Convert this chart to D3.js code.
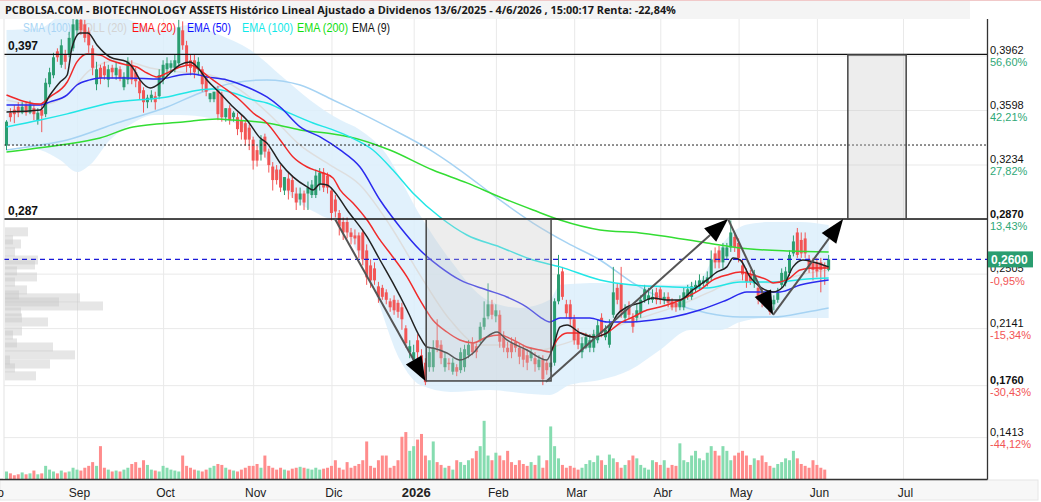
<!DOCTYPE html>
<html><head><meta charset="utf-8">
<script src="https://cdn.jsdelivr.net/npm/d3@7"></script>
<style>body{margin:0;background:#fff;} svg{display:block;font-family:"Liberation Sans",Arial,sans-serif;}</style>
</head><body><svg id="c" width="1041" height="502"></svg>
<script>
// ---------- DATA ----------
// daily candles [open, high, low, close], one per trading day from early Aug 2025 to 4 Jun 2026
const candles = [
[0.336,0.353,0.333,0.352],[0.358,0.361,0.352,0.355],[0.360,0.363,0.351,0.357],[0.362,0.365,0.355,0.358],[0.358,0.365,0.357,0.362],
[0.363,0.365,0.356,0.358],[0.358,0.366,0.357,0.363],[0.361,0.363,0.353,0.357],[0.353,0.361,0.350,0.358],[0.360,0.363,0.345,0.356],
[0.357,0.381,0.355,0.378],[0.377,0.388,0.375,0.385],[0.383,0.398,0.381,0.395],[0.399,0.401,0.392,0.395],[0.390,0.407,0.388,0.403],
[0.397,0.400,0.387,0.392],[0.397,0.412,0.395,0.408],[0.401,0.423,0.399,0.417],[0.413,0.424,0.410,0.420],[0.420,0.423,0.410,0.413],
[0.417,0.420,0.405,0.408],[0.412,0.415,0.398,0.403],[0.401,0.403,0.383,0.388],[0.377,0.392,0.373,0.387],[0.388,0.390,0.377,0.381],
[0.389,0.392,0.380,0.383],[0.380,0.390,0.375,0.387],[0.388,0.390,0.381,0.385],[0.383,0.392,0.380,0.388],[0.387,0.389,0.379,0.381],
[0.375,0.385,0.373,0.382],[0.380,0.395,0.377,0.392],[0.390,0.393,0.377,0.380],[0.385,0.388,0.375,0.379],[0.379,0.381,0.367,0.371],
[0.373,0.375,0.358,0.365],[0.365,0.370,0.361,0.368],[0.367,0.373,0.365,0.370],[0.369,0.372,0.360,0.365],[0.369,0.387,0.367,0.383],
[0.380,0.393,0.377,0.390],[0.387,0.395,0.383,0.391],[0.388,0.393,0.385,0.391],[0.388,0.397,0.385,0.393],[0.391,0.420,0.389,0.415],
[0.413,0.419,0.400,0.403],[0.403,0.406,0.385,0.390],[0.393,0.397,0.383,0.388],[0.393,0.397,0.381,0.385],[0.387,0.395,0.383,0.392],
[0.387,0.389,0.372,0.377],[0.381,0.383,0.369,0.372],[0.367,0.371,0.365,0.371],[0.367,0.372,0.365,0.372],[0.373,0.376,0.353,0.357],
[0.370,0.372,0.352,0.355],[0.355,0.361,0.352,0.361],[0.361,0.363,0.350,0.353],[0.355,0.359,0.352,0.358],[0.355,0.358,0.343,0.347],
[0.353,0.357,0.340,0.345],[0.351,0.353,0.336,0.340],[0.348,0.350,0.333,0.340],[0.340,0.342,0.320,0.326],[0.333,0.336,0.322,0.326],
[0.330,0.343,0.326,0.340],[0.342,0.344,0.328,0.332],[0.332,0.334,0.318,0.323],[0.322,0.325,0.306,0.313],[0.320,0.323,0.310,0.313],
[0.320,0.323,0.305,0.308],[0.306,0.315,0.303,0.315],[0.314,0.318,0.300,0.306],[0.313,0.316,0.301,0.305],[0.304,0.308,0.293,0.298],
[0.300,0.308,0.296,0.304],[0.304,0.306,0.293,0.298],[0.304,0.312,0.293,0.308],[0.303,0.313,0.301,0.310],[0.303,0.320,0.301,0.316],
[0.310,0.321,0.306,0.318],[0.318,0.321,0.305,0.308],[0.316,0.318,0.304,0.308],[0.306,0.308,0.286,0.291],[0.300,0.303,0.288,0.292],
[0.291,0.293,0.276,0.282],[0.285,0.288,0.273,0.278],[0.285,0.288,0.274,0.278],[0.278,0.281,0.270,0.275],[0.276,0.280,0.270,0.274],
[0.276,0.278,0.261,0.266],[0.278,0.280,0.256,0.260],[0.266,0.270,0.243,0.248],[0.256,0.260,0.241,0.246],[0.254,0.258,0.243,0.246],
[0.242,0.245,0.231,0.235],[0.241,0.243,0.233,0.235],[0.238,0.240,0.230,0.233],[0.232,0.234,0.225,0.228],[0.233,0.236,0.223,0.226],
[0.231,0.233,0.221,0.225],[0.228,0.231,0.213,0.220],[0.214,0.216,0.201,0.204],[0.198,0.206,0.194,0.202],[0.193,0.203,0.190,0.198],
[0.206,0.210,0.194,0.198],[0.196,0.200,0.183,0.186],[0.191,0.194,0.176,0.178],[0.188,0.201,0.185,0.198],[0.188,0.206,0.185,0.201],
[0.206,0.220,0.198,0.201],[0.203,0.206,0.190,0.194],[0.188,0.198,0.185,0.194],[0.191,0.194,0.186,0.190],[0.185,0.194,0.183,0.191],
[0.188,0.190,0.182,0.185],[0.186,0.201,0.184,0.198],[0.188,0.203,0.185,0.200],[0.196,0.206,0.194,0.203],[0.204,0.208,0.196,0.198],
[0.202,0.204,0.194,0.198],[0.206,0.218,0.204,0.215],[0.215,0.232,0.213,0.221],[0.222,0.244,0.220,0.230],[0.230,0.233,0.220,0.223],
[0.222,0.230,0.218,0.226],[0.223,0.226,0.201,0.205],[0.208,0.212,0.198,0.201],[0.201,0.205,0.194,0.198],[0.204,0.208,0.194,0.198],
[0.205,0.208,0.198,0.201],[0.201,0.204,0.190,0.195],[0.200,0.203,0.188,0.193],[0.196,0.200,0.186,0.191],[0.194,0.201,0.192,0.198],
[0.194,0.198,0.185,0.190],[0.188,0.196,0.186,0.193],[0.193,0.196,0.176,0.180],[0.191,0.193,0.183,0.186],[0.188,0.191,0.185,0.191],
[0.191,0.234,0.189,0.232],[0.232,0.263,0.230,0.250],[0.252,0.255,0.233,0.235],[0.230,0.233,0.221,0.224],[0.230,0.233,0.216,0.220],
[0.220,0.223,0.203,0.206],[0.211,0.214,0.200,0.203],[0.198,0.208,0.194,0.204],[0.201,0.211,0.200,0.208],[0.201,0.210,0.198,0.206],
[0.201,0.213,0.198,0.210],[0.206,0.220,0.204,0.216],[0.221,0.224,0.208,0.211],[0.208,0.216,0.206,0.213],[0.203,0.220,0.201,0.216],
[0.223,0.255,0.221,0.238],[0.241,0.244,0.230,0.233],[0.244,0.255,0.221,0.225],[0.221,0.230,0.218,0.226],[0.228,0.232,0.220,0.223],
[0.221,0.224,0.211,0.215],[0.221,0.230,0.218,0.226],[0.224,0.236,0.221,0.233],[0.233,0.243,0.231,0.240],[0.233,0.241,0.230,0.236],
[0.233,0.240,0.231,0.235],[0.238,0.241,0.230,0.233],[0.240,0.242,0.230,0.233],[0.233,0.238,0.230,0.235],[0.235,0.238,0.228,0.231],
[0.232,0.234,0.226,0.228],[0.231,0.233,0.225,0.228],[0.228,0.236,0.226,0.233],[0.228,0.241,0.226,0.238],[0.235,0.243,0.233,0.240],
[0.235,0.245,0.233,0.242],[0.240,0.246,0.238,0.243],[0.242,0.250,0.240,0.246],[0.244,0.249,0.242,0.246],[0.244,0.252,0.242,0.248],
[0.248,0.266,0.246,0.260],[0.264,0.268,0.254,0.258],[0.266,0.269,0.254,0.258],[0.258,0.271,0.254,0.268],[0.262,0.271,0.260,0.268],
[0.268,0.286,0.265,0.278],[0.275,0.278,0.265,0.268],[0.271,0.274,0.258,0.261],[0.256,0.260,0.246,0.250],[0.252,0.254,0.241,0.245],
[0.250,0.253,0.243,0.245],[0.244,0.253,0.241,0.250],[0.241,0.245,0.230,0.233],[0.238,0.241,0.228,0.232],[0.235,0.238,0.228,0.231],
[0.232,0.234,0.223,0.225],[0.230,0.236,0.226,0.233],[0.233,0.241,0.231,0.238],[0.243,0.254,0.241,0.251],[0.244,0.255,0.242,0.252],
[0.251,0.266,0.249,0.263],[0.264,0.276,0.262,0.272],[0.278,0.281,0.261,0.263],[0.273,0.278,0.261,0.264],[0.274,0.278,0.261,0.264],
[0.260,0.263,0.251,0.254],[0.258,0.261,0.246,0.253],[0.258,0.261,0.248,0.252],[0.258,0.261,0.238,0.253],[0.256,0.258,0.243,0.254],
[0.253,0.263,0.252,0.260]
];
// daily volume (relative units)
const volumes = [
8,6,4,5,7,5,6,9,5,6,14,10,8,6,9,7,8,12,
10,9,12,14,18,14,35,12,10,8,9,8,10,12,16,18,12,20,15,10,9,8,14,12,
10,9,8,25,14,12,10,9,8,10,12,14,16,15,12,10,9,8,10,12,14,
14,16,12,25,14,12,10,12,10,9,11,12,13,12,11,10,12,10,11,12,
14,20,12,10,18,12,14,16,20,40,14,12,20,25,25,12,14,20,45,50,30,
35,42,48,25,20,40,18,15,12,14,10,20,18,15,20,22,30,35,62,25,
20,28,25,20,30,18,15,20,16,14,18,15,25,12,20,56,35,22,15,12,
14,12,10,12,16,20,18,25,20,15,26,22,18,12,15,20,25,22,15,12,10,20,
18,15,20,12,15,14,38,20,18,25,30,22,20,28,35,30,25,35,30,20,
25,28,30,25,15,22,20,25,18,14,12,16,18,22,20,30,22,16,14,12,
20,15,12,10
];
// month ticks (index of first trading day of the month)
const monthLabels = ["Ago","Sep","Oct","Nov","Dic","2026","Feb","Mar","Abr","May","Jun","Jul"];
const monthIndex  = [-4, 18, 40, 63, 83, 104, 125, 145, 167, 187, 207, 229];
// right axis ticks and % change labels
const yTicks   = [0.3962, 0.3598, 0.3234, 0.2870, 0.2505, 0.2141, 0.1760, 0.1413];
const yTickPct = ["56,60%","42,21%","27,82%","13,43%","-0,95%","-15,34%","-30,43%","-44,12%"];
const boldTicks = [0.2870, 0.1760];
const lastPrice = 0.2600;
// indicators: [index, value]
const ema9 = [[0,0.3585],[8.6,0.3598],[11.1,0.3698],[13.7,0.3785],[15.5,0.3832],[16.7,0.4012],[18.8,0.4113],[20.8,0.4113],[23.1,0.4032],[26.4,0.3952],[30.8,0.3919],[32.3,0.3879],[34.1,0.3799],[36.7,0.3745],[39.2,0.3779],[41.8,0.3845],[44.3,0.3899],[46.9,0.3919],[48.7,0.3885],[51.2,0.3799],[54.5,0.3712],[57.9,0.3618],[61.4,0.3531],[64.8,0.3411],[66.5,0.3378],[69.9,0.3244],[73.2,0.3151],[76.8,0.3084],[78.3,0.3064],[80.1,0.3104],[81.9,0.3097],[83.4,0.3064],[87,0.2930],[92.1,0.2750],[95.4,0.2596],[98.7,0.2443],[102.3,0.2262],[105.6,0.2082],[107.4,0.2015],[108.9,0.2008],[112.5,0.1975],[115.8,0.1928],[119.2,0.1975],[122.7,0.2082],[125.3,0.2115],[127.8,0.2062],[132.9,0.1995],[138,0.1928],[139.6,0.2015],[141.4,0.2149],[143.2,0.2162],[146.5,0.2109],[149.8,0.2082],[153.4,0.2109],[155.9,0.2229],[158.5,0.2282],[161.8,0.2309],[165.1,0.2342],[168.7,0.2329],[172,0.2329],[175.3,0.2396],[178.9,0.2463],[181.5,0.2516],[184,0.2550],[185.6,0.2610],[187.4,0.2596],[189.9,0.2483],[192.5,0.2416],[195.8,0.2383],[198.3,0.2416],[200.9,0.2550],[203.4,0.2596],[206,0.2583],[210,0.2550]];
const ema20 = [[0,0.3698],[8.6,0.3638],[11.1,0.3685],[15.5,0.3785],[18,0.3919],[20.6,0.3972],[23.9,0.3966],[26.4,0.3932],[30.8,0.3899],[33.3,0.3885],[35.9,0.3845],[38.4,0.3819],[41,0.3845],[44.3,0.3885],[46.9,0.3899],[49.4,0.3865],[52.7,0.3799],[56.3,0.3732],[59.6,0.3665],[63,0.3578],[66.5,0.3511],[69.9,0.3398],[73.2,0.3284],[76.8,0.3217],[80.1,0.3184],[83.4,0.3144],[85.2,0.3064],[88.5,0.2977],[92.1,0.2863],[95.4,0.2730],[98.7,0.2616],[102.3,0.2483],[105.6,0.2329],[108.9,0.2195],[112.5,0.2115],[115.8,0.2062],[119.2,0.2042],[122.7,0.2082],[126,0.2095],[129.4,0.2062],[132.9,0.2015],[136.3,0.1995],[138.8,0.1982],[140.6,0.2062],[143.2,0.2109],[146.5,0.2109],[149.8,0.2082],[153.4,0.2109],[156.7,0.2175],[160,0.2215],[163.6,0.2262],[166.9,0.2282],[170.2,0.2309],[173.8,0.2349],[177.1,0.2396],[180.5,0.2463],[184,0.2496],[187.4,0.2516],[190.7,0.2496],[194.3,0.2463],[195.8,0.2443],[199.4,0.2463],[202.7,0.2529],[206,0.2543],[210,0.2543]];
const ema50 = [[0,0.3632],[8.6,0.3632],[11.1,0.3652],[15.5,0.3699],[18,0.3765],[21.3,0.3799],[23.9,0.3812],[30.8,0.3812],[39.2,0.3805],[44.3,0.3832],[47.6,0.3839],[51.2,0.3819],[56.3,0.3799],[61.4,0.3752],[66.5,0.3685],[69.9,0.3618],[75,0.3485],[80.1,0.3418],[85.2,0.3331],[90.3,0.3217],[95.4,0.2997],[100.5,0.2817],[105.6,0.2663],[110.7,0.2550],[115.8,0.2463],[122.7,0.2396],[127.8,0.2349],[132.9,0.2282],[136.3,0.2215],[138.8,0.2182],[141.4,0.2209],[149,0.2209],[153.4,0.2182],[160,0.2182],[165.1,0.2195],[170.2,0.2215],[177.1,0.2262],[184,0.2329],[189.1,0.2383],[197.6,0.2383],[202.7,0.2429],[210,0.2463]];
const ema100 = [[0,0.3485],[8.6,0.3531],[15.5,0.3572],[26.4,0.3645],[41,0.3685],[49.4,0.3732],[52.7,0.3739],[57.9,0.3712],[63,0.3665],[66.5,0.3645],[71.6,0.3585],[78.3,0.3511],[83.4,0.3465],[87.7,0.3418],[93.6,0.3331],[98.7,0.3197],[103.8,0.3044],[110.7,0.2883],[117.6,0.2763],[126,0.2683],[134.5,0.2596],[141.4,0.2550],[151.6,0.2463],[160,0.2429],[170.2,0.2416],[178.9,0.2409],[187.4,0.2449],[195.8,0.2449],[204.5,0.2469],[210,0.2476]];
const ema200 = [[0,0.3318],[13.7,0.3364],[23.9,0.3411],[32.3,0.3485],[45.1,0.3518],[53.8,0.3538],[57.9,0.3531],[66.5,0.3511],[75,0.3465],[83.4,0.3438],[87.7,0.3418],[97.9,0.3331],[108.9,0.3197],[117.6,0.3111],[126,0.3017],[134.5,0.2930],[141.4,0.2863],[151.6,0.2797],[161.8,0.2777],[178.9,0.2710],[187.4,0.2676],[200.1,0.2656],[210,0.2650]];
const sma100 = [[0,0.3331],[8.6,0.3364],[15.5,0.3398],[28.2,0.3511],[41,0.3618],[49.4,0.3712],[57.9,0.3779],[66.5,0.3799],[75,0.3765],[83.4,0.3665],[87.7,0.3612],[97.9,0.3478],[108.2,0.3331],[115.8,0.3197],[126,0.2997],[134.5,0.2843],[143.2,0.2710],[151.6,0.2596],[160,0.2443],[170.2,0.2309],[178.9,0.2242],[187.4,0.2215],[195.8,0.2215],[204.5,0.2249],[210,0.2276]];
const bollUpper = [[0,0.4133],[8.6,0.4146],[16.2,0.4266],[23.9,0.4266],[31.5,0.4199],[39.2,0.4133],[46.9,0.4166],[54.5,0.4099],[62.2,0.4000],[69.9,0.3832],[77.5,0.3665],[85.2,0.3532],[90.3,0.3465],[96.2,0.3331],[105.6,0.2897],[113.3,0.2597],[122.7,0.2330],[131.2,0.2276],[138.8,0.2330],[141.4,0.2430],[151.6,0.2443],[161.8,0.2430],[172,0.2430],[177.1,0.2463],[180.9,0.2630],[184.8,0.2763],[188.6,0.2830],[195,0.2850],[202.7,0.2850],[210,0.2830]];
const bollLower = [[0,0.3365],[8.6,0.3331],[13.7,0.3264],[18,0.3184],[21.3,0.3231],[26.4,0.3398],[31.5,0.3498],[37.6,0.3565],[44.3,0.3565],[52,0.3545],[59.6,0.3498],[64.8,0.3331],[72.4,0.3030],[80.1,0.2897],[85.2,0.2830],[92.9,0.2463],[100.5,0.1928],[105.6,0.1762],[113.3,0.1715],[123.5,0.1728],[131.2,0.1708],[138.8,0.1695],[143.9,0.1762],[151.6,0.1795],[159.3,0.1862],[166.9,0.1995],[174.6,0.2129],[182.3,0.2129],[187.4,0.2182],[195,0.2209],[202.7,0.2209],[210,0.2209]];
const bollMid = [[0,0.3665],[8.6,0.3632],[15.5,0.3699],[21.3,0.3865],[29,0.3932],[36.7,0.3879],[44.3,0.3852],[52,0.3832],[59.6,0.3732],[67.3,0.3565],[74.9,0.3365],[82.6,0.3231],[90.3,0.3097],[97.9,0.2830],[105.6,0.2497],[113.3,0.2196],[121,0.2029],[128.6,0.2029],[136.3,0.1995],[141.4,0.2029],[149,0.2095],[156.7,0.2162],[164.4,0.2229],[172,0.2296],[179.7,0.2383],[187.4,0.2463],[195,0.2443],[202.7,0.2496],[210,0.2530]];
// volume-at-price profile (price level, relative volume)
const profilePrice = [0.2784,0.2730,0.2703,0.2650,0.2596,0.2563,0.2523,0.2483,0.2449,0.2396,0.2363,0.2343,0.2316,0.2289,0.2249,0.2209,0.2182,0.2122,0.2095,0.2042,0.2015,0.1962,0.1928,0.1901,0.1875,0.1822];
const profileVol   = [23,8,16,10,33,30,12,32,10,22,14,75,54,98,16,17,43,17,8,12,48,70,5,45,10,31];
// drawn levels, boxes and arrows
const hLevels = [0.397, 0.287];
const hLevelLabels = ["0,397","0,287"];
const dottedLevel = 0.3364;
const boxes = [[107.2,139.1,0.287,0.1788],[214.9,229.8,0.3966,0.287]];
const arrows = [[[83.9,0.287],[107.0,0.1788]],[[137.8,0.1782],[184.3,0.287]],[[184.3,0.287],[195.8,0.2229]],[[195.8,0.2229],[213.7,0.287]]];
const legendItems = ["SMA (100)","BOLL (20)","EMA (20)","EMA (50)","EMA (100)","EMA (200)","EMA (9)"];
const legendColors = ["#a9d5f5","#d4d4d4","#ff1010","#1010ff","#10e8e8","#10e010","#111111"];
const titleText = "PCBOLSA.COM - BIOTECHNOLOGY ASSETS Histórico Lineal Ajustado a Dividenos 13/6/2025 - 4/6/2026 , 15:00:17 Renta: -22,84%";

// ---------- DRAWING ----------
const W = 1041, H = 502;
const P = {left: 4, right: 987, top: 19, bottom: 479};
const svg = d3.select("#c");
const x = d3.scaleLinear().domain([0, 210]).range([6.5, 6.5 + 210 * 3.915]);
const y = d3.scaleLinear().domain([0.1413, 0.3962]).range([437.1, 55.5]);
const vy = d3.scaleLinear().domain([0, 65]).range([P.bottom, P.bottom - 61]);
const px = d3.scaleLinear().domain([0, 100]).range([P.left + 1, P.left + 101]);
const fmt = v => d3.format(".4f")(v).replace(".", ",");

svg.append("rect").attr("width", W).attr("height", H).attr("fill", "#fff");
svg.append("defs").append("clipPath").attr("id", "clip")
  .append("rect").attr("x", P.left).attr("y", P.top).attr("width", P.right - P.left).attr("height", P.bottom - P.top);

// x-axis band
svg.append("rect").attr("x", 0).attr("y", P.bottom + 1).attr("width", W - 3).attr("height", 20).attr("fill", "#f7f7f7").attr("stroke", "#e6e6e6");

const g = svg.append("g").attr("clip-path", "url(#clip)");

// grid
g.append("g").attr("transform", `translate(${P.right},0)`)
  .call(d3.axisLeft(y).tickValues(yTicks).tickSize(P.right - P.left).tickFormat(""))
  .call(s => s.select(".domain").remove())
  .call(s => s.selectAll("line").attr("stroke", "#e9e9e9"));
g.append("g").attr("transform", `translate(0,${P.bottom})`)
  .call(d3.axisTop(x).tickValues(monthIndex).tickSize(P.bottom - P.top).tickFormat(""))
  .call(s => s.select(".domain").remove())
  .call(s => s.selectAll("line").attr("stroke", "#e9e9e9"));

// Bollinger band fill (upper edge forward, lower edge back)
const edge = d3.line().x(d => x(d[0])).y(d => y(d[1])).curve(d3.curveMonotoneX);
g.append("path")
  .attr("d", edge(bollUpper) + "L" + edge(bollLower.slice().reverse()).slice(1) + "Z")
  .attr("fill", "#dcefFc").attr("fill-opacity", 0.85);

// legend: 12px text, squeezed horizontally to the width each entry has in the reference (drawn under the marks)
const legX = [23, 77, 132, 187, 242, 297, 352];
const legW = [48, 50, 44, 44, 51, 51, 38];
legendItems.forEach((t, i) => {
  g.append("text").attr("x", legX[i]).attr("y", 32).text(t).attr("font-size", 12.5)
    .attr("textLength", legW[i]).attr("lengthAdjust", "spacingAndGlyphs")
    .attr("font-family", "Liberation Sans, Arial, sans-serif").attr("fill", legendColors[i]);
});

// volume profile
g.append("g").selectAll("rect").data(profilePrice).join("rect")
  .attr("x", P.left + 1).attr("y", d => y(d) - 4.5)
  .attr("width", (d, i) => px(profileVol[i]) - (P.left + 1)).attr("height", 9)
  .attr("fill", "#c8c8c8").attr("fill-opacity", 0.45);

// volume bars
g.append("g").selectAll("rect").data(volumes).join("rect")
  .attr("x", (d, i) => x(i) - 1.5).attr("width", 3)
  .attr("y", d => vy(d)).attr("height", d => P.bottom - vy(d))
  .attr("fill", (d, i) => candles[i][3] >= candles[i][0] ? "#86dcb0" : "#ff8c8c");

// indicator lines (background ones first)
const line = d3.line().x(d => x(d[0])).y(d => y(d[1])).curve(d3.curveMonotoneX);
const drawLine = (data, color, w) => g.append("path").attr("d", line(data)).attr("fill", "none").attr("stroke", color).attr("stroke-width", w);
drawLine(bollMid, "#dedede", 1.5);
drawLine(sma100, "#a6d3f3", 1.5);

// candles
const cg = g.append("g");
candles.forEach((c, i) => {
  const up = c[3] >= c[0];
  const col = up ? "#2a9d70" : "#f25555";
  cg.append("line").attr("x1", x(i)).attr("x2", x(i)).attr("y1", y(c[1])).attr("y2", y(c[2])).attr("stroke", col).attr("stroke-width", 1);
  const top = y(Math.max(c[0], c[3])), bot = y(Math.min(c[0], c[3]));
  cg.append("rect").attr("x", x(i) - 1.5).attr("width", 3).attr("y", top).attr("height", Math.max(1, bot - top)).attr("fill", col);
});

drawLine(ema200, "#33dd33", 1.5);
drawLine(ema100, "#22e6e6", 1.5);
drawLine(ema50, "#2a2aee", 1.5);
drawLine(ema20, "#f02a2a", 1.5);
drawLine(ema9, "#222222", 1.5);

// horizontal levels
hLevels.forEach((v, k) => {
  g.append("line").attr("x1", P.left).attr("x2", P.right).attr("y1", y(v)).attr("y2", y(v)).attr("stroke", "#111").attr("stroke-width", 1.3);
  g.append("text").attr("x", 8).attr("y", y(v) - 4).text(hLevelLabels[k]).attr("font-size", 12).attr("font-weight", "bold").attr("fill", "#111");
});
g.append("line").attr("x1", P.left).attr("x2", P.right).attr("y1", y(dottedLevel)).attr("y2", y(dottedLevel))
  .attr("stroke", "#222").attr("stroke-width", 1).attr("stroke-dasharray", "2,2");
g.append("line").attr("x1", P.left).attr("x2", P.right).attr("y1", y(lastPrice)).attr("y2", y(lastPrice))
  .attr("stroke", "#1a1ad8").attr("stroke-width", 1.2).attr("stroke-dasharray", "5,4");

// boxes
boxes.forEach(b => {
  g.append("rect").attr("x", x(b[0])).attr("y", y(b[2])).attr("width", x(b[1]) - x(b[0])).attr("height", y(b[3]) - y(b[2]))
    .attr("fill", "#c8c8c8").attr("fill-opacity", 0.33).attr("stroke", "#444").attr("stroke-width", 1.5);
});

// arrows
arrows.forEach(a => {
  const x1 = x(a[0][0]), y1 = y(a[0][1]), x2 = x(a[1][0]), y2 = y(a[1][1]);
  const dx = x2 - x1, dy = y2 - y1, len = Math.hypot(dx, dy), ux = dx / len, uy = dy / len;
  const L = 24, Wd = 9;
  const bx = x2 - ux * L, by = y2 - uy * L;
  g.append("line").attr("x1", x1).attr("y1", y1).attr("x2", bx).attr("y2", by).attr("stroke", "#555").attr("stroke-width", 2);
  g.append("path").attr("d", `M${x2},${y2}L${bx - uy * Wd},${by + ux * Wd}L${bx + uy * Wd},${by - ux * Wd}Z`).attr("fill", "#000");
});

// plot frame
svg.append("line").attr("x1", P.right + 0.5).attr("x2", P.right + 0.5).attr("y1", P.top).attr("y2", P.bottom + 0.5).attr("stroke", "#333").attr("stroke-width", 1.3);
svg.append("line").attr("x1", 0).attr("x2", P.right + 0.5).attr("y1", P.bottom + 0.5).attr("y2", P.bottom + 0.5).attr("stroke", "#333").attr("stroke-width", 1.3);
svg.append("line").attr("x1", P.left).attr("x2", P.left).attr("y1", P.top).attr("y2", P.bottom).attr("stroke", "#e3e3e3");

// right axis
const ax = svg.append("g").attr("transform", `translate(${P.right + 2},0)`)
  .call(d3.axisRight(y).tickValues(yTicks).tickSize(0).tickPadding(1).tickFormat(fmt));
ax.select(".domain").remove();
ax.selectAll("text").attr("font-size", 11).attr("font-family", "Liberation Sans, Arial, sans-serif").attr("fill", "#111").attr("dy", "-0.15em")
  .attr("font-weight", d => boldTicks.includes(d) ? "bold" : "normal");
ax.selectAll(".tick").append("text").attr("x", 1).attr("dy", "0.95em")
  .attr("font-size", 11).attr("font-family", "Liberation Sans, Arial, sans-serif")
  .attr("fill", (d, i) => yTickPct[i].startsWith("-") ? "#f25555" : "#2fa877").attr("text-anchor", "start")
  .text((d, i) => yTickPct[i]);

// last price tag
svg.append("rect").attr("x", P.right + 1).attr("y", y(lastPrice) - 8).attr("width", 45).attr("height", 16).attr("fill", "#2a9d70");
svg.append("text").attr("x", P.right + 4).attr("y", y(lastPrice) + 4.5).text(fmt(lastPrice))
  .attr("font-size", 12).attr("font-weight", "bold").attr("fill", "#fff");

// x axis labels
const xa = svg.append("g").attr("transform", `translate(2,${P.bottom + 6})`)
  .call(d3.axisBottom(x).tickValues(monthIndex).tickSize(0).tickFormat((d, i) => monthLabels[i]));
xa.select(".domain").remove();
xa.selectAll("text").attr("font-family", "Liberation Sans, Arial, sans-serif").attr("fill", "#222")
  .attr("font-weight", d => d === 104 ? "bold" : "normal").attr("font-size", d => d === 104 ? 13 : 12);

// title bar
svg.append("rect").attr("x", 0).attr("y", 0).attr("width", 970).attr("height", 19).attr("fill", "#f4f4f4");
svg.append("line").attr("x1", 0).attr("x2", W).attr("y1", 0.5).attr("y2", 0.5).attr("stroke", "#f1c9c9");
const tt = svg.append("text").attr("x", 5).attr("y", 14).text(titleText)
  .attr("font-family", "'Open Sans', 'Noto Sans', sans-serif").attr("font-weight", "bold").attr("font-size", 12).attr("fill", "#1a1a1a");
const tw = tt.node().getComputedTextLength();
tt.attr("font-size", 12 * 672 / tw);
</script>
</body></html>
